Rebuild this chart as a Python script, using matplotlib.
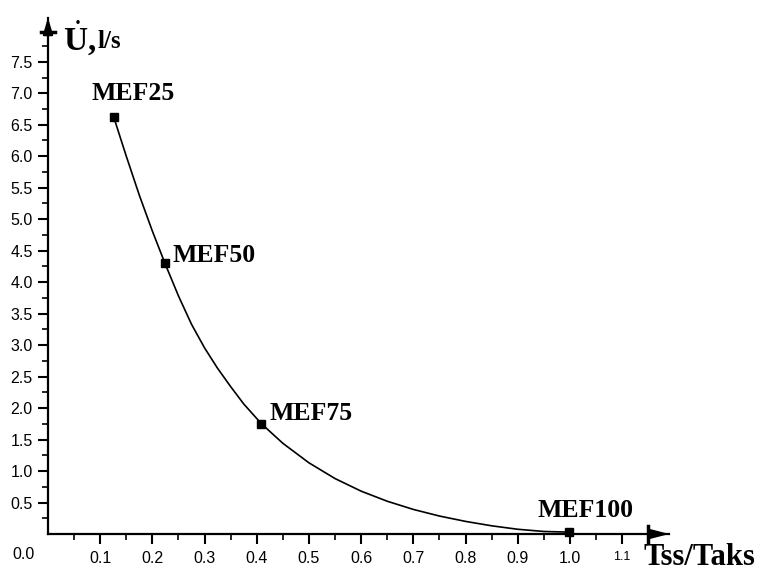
import matplotlib
matplotlib.use("Agg")
import matplotlib.pyplot as plt
import numpy as np

plt.rcParams["mathtext.fontset"] = "custom"
plt.rcParams["mathtext.bf"] = "Liberation Serif:bold"
plt.rcParams["mathtext.rm"] = "Liberation Serif"

# curve (x = Tss/Taks, y = flow, l/s)
curve_x = [0.126, 0.15, 0.175, 0.20, 0.224, 0.25, 0.275, 0.30, 0.325, 0.35,
           0.375, 0.409, 0.45, 0.50, 0.55, 0.60, 0.65, 0.70, 0.75, 0.80,
           0.85, 0.90, 0.95, 0.998]
curve_y = [6.62, 6.00, 5.38, 4.81, 4.30, 3.78, 3.33, 2.955, 2.63, 2.34,
           2.065, 1.75, 1.44, 1.13, 0.88, 0.68, 0.52, 0.39, 0.285, 0.20,
           0.13, 0.075, 0.04, 0.03]

# marked points
mef_names = ["MEF25", "MEF50", "MEF75", "MEF100"]
mef_x = [0.126, 0.224, 0.409, 0.998]
mef_y = [6.62, 4.30, 1.75, 0.03]

xticks = [0.1, 0.2, 0.3, 0.4, 0.5, 0.6, 0.7, 0.8, 0.9, 1.0, 1.1]
yticks = [0.5, 1.0, 1.5, 2.0, 2.5, 3.0, 3.5, 4.0, 4.5, 5.0, 5.5, 6.0, 6.5, 7.0, 7.5]

serif = ["Liberation Serif", "DejaVu Serif"]
sans = ["Liberation Sans", "DejaVu Sans"]

fig = plt.figure(figsize=(7.69, 5.71), dpi=100)
ax = fig.add_axes([0.0624, 0.0648, 0.8078, 0.9042])

ax.plot(curve_x, curve_y, color="k", lw=1.2, solid_joinstyle="round")
ax.plot(mef_x, mef_y, "s", color="k", ms=5.5, clip_on=False, zorder=5)

# label offsets in points from each marker
offsets = [(-15.8, 12.2), (5.8, 0.7), (6.0, 2.4), (-23.0, 10.6)]
for name, x, y, off in zip(mef_names, mef_x, mef_y, offsets):
    ax.annotate(name, (x, y), xytext=off, textcoords="offset points",
                family=serif, fontweight="bold", fontsize=18.5,
                ha="left", va="baseline")

ax.set_xlim(0, 1.19)
ax.set_ylim(0, 8.2)
for s in ["top", "right"]:
    ax.spines[s].set_visible(False)
for s in ["left", "bottom"]:
    ax.spines[s].set_linewidth(1.6)

ax.set_xticks(xticks)
ax.set_xticks(np.arange(0.05, 1.11, 0.05), minor=True)
ax.set_yticks(yticks)
ax.set_yticks(np.arange(0.25, 7.8, 0.25), minor=True)
ax.set_xticklabels([f"{v:.1f}" for v in xticks])
ax.set_yticklabels([f"{v:.1f}" for v in yticks])
ax.tick_params(which="major", direction="out", length=7, width=1.5, labelsize=11.5)
ax.tick_params(which="minor", direction="out", length=4.5, width=1.2)
ax.tick_params(axis="x", pad=5)
ax.tick_params(axis="y", pad=4)
for lab in ax.get_xticklabels() + ax.get_yticklabels():
    lab.set_family(sans)
ax.get_xticklabels()[-1].set_fontsize(9)

# origin label
ax.annotate("0.0", (0, 0), xytext=(-9.4, -15), textcoords="offset points",
            family=sans, fontsize=11.5, ha="right", va="center",
            annotation_clip=False)

# arrow heads of the axes
ax.plot([1.15, 1.15], [-0.12, 0.12], color="k", lw=2.5, clip_on=False)
ax.annotate("", xy=(1.19, 0), xytext=(1.15, 0), annotation_clip=False,
            arrowprops=dict(arrowstyle="-|>,head_length=1.15,head_width=0.3",
                            color="k", lw=1.5, shrinkA=0, shrinkB=0))
ax.plot([-0.0134, 0.0134], [7.97, 7.97], color="k", lw=2.5, clip_on=False)
ax.annotate("", xy=(0, 8.2), xytext=(0, 7.97), annotation_clip=False,
            arrowprops=dict(arrowstyle="-|>,head_length=1.0,head_width=0.3",
                            color="k", lw=1.5, shrinkA=0, shrinkB=0))

# axis titles
fig.text(63 / 769, 1 - 50 / 571, r"$\dot{\mathbf{U}}$,", family=serif,
         fontweight="bold", fontsize=24, ha="left", va="baseline")
fig.text(97 / 769, 1 - 48 / 571, "l/s", family=serif, fontweight="bold",
         fontsize=18, ha="left", va="baseline")
fig.text(643 / 769, 1 - 565 / 571, "Tss/Taks", family=serif, fontweight="bold",
         fontsize=22, ha="left", va="baseline")

fig.savefig("out.png", dpi=100)
